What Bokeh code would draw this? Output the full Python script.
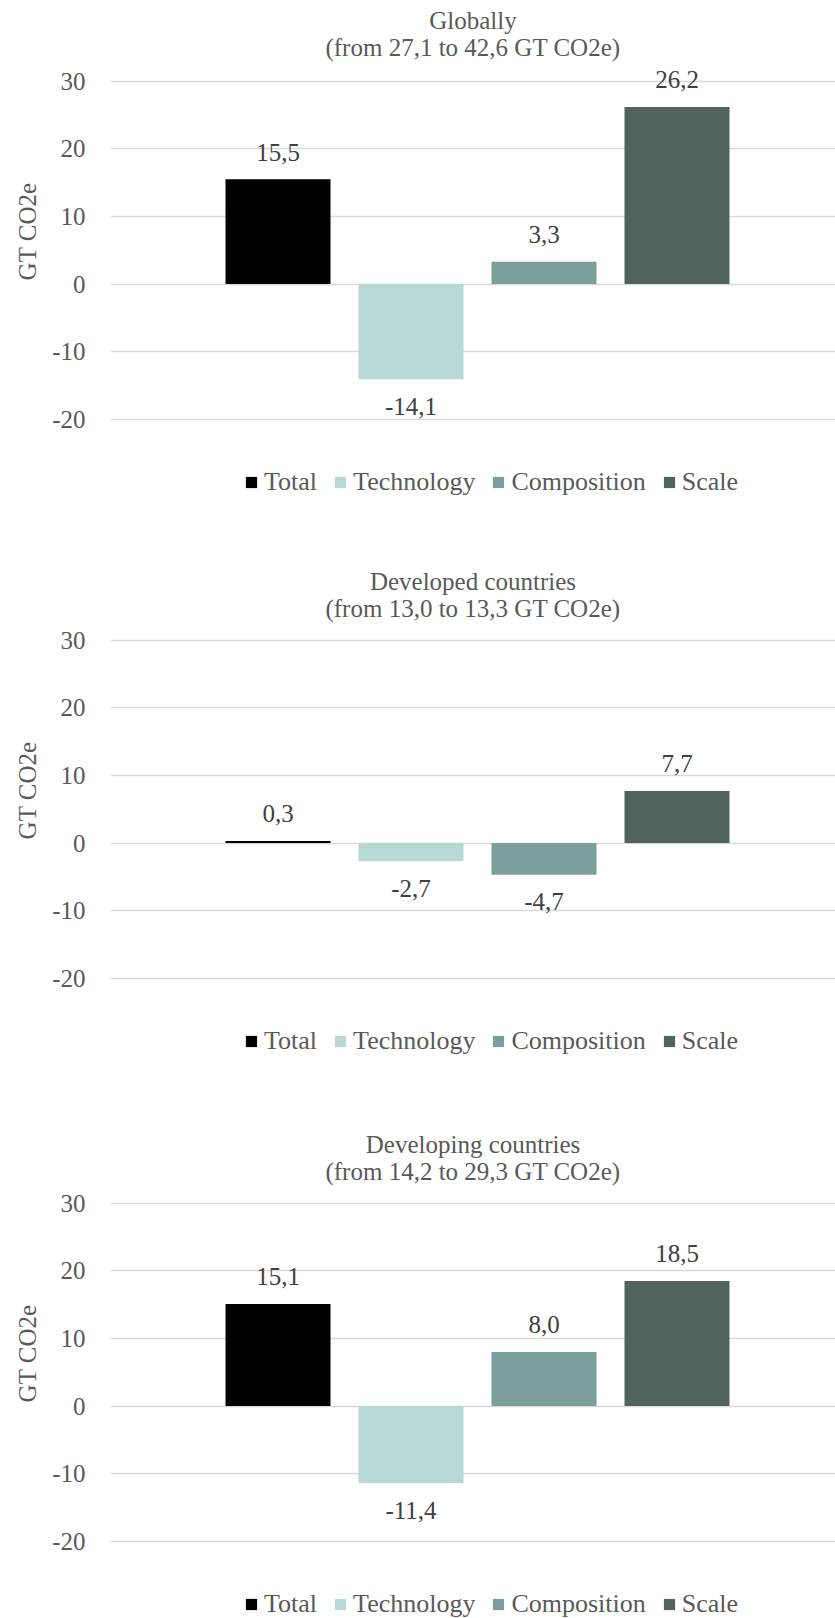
from bokeh.plotting import figure
from bokeh.layouts import column
from bokeh.models import (ColumnDataSource, Range1d, FixedTicker, Label, Legend, LegendItem, Title)
from bokeh.core.properties import value
from bokeh.embed import file_html
from bokeh.resources import INLINE

# ---------------- data ----------------
categories = ["Total", "Technology", "Composition", "Scale"]
colors = ["#000000", "#b6d9d6", "#7a9e9c", "#50645c"]

titles = ["Globally", "Developed countries", "Developing countries"]
subtitles = ["(from 27,1 to 42,6 GT CO2e)",
             "(from 13,0 to 13,3 GT CO2e)",
             "(from 14,2 to 29,3 GT CO2e)"]

globally = [15.5, -14.1, 3.3, 26.2]
developed = [0.3, -2.7, -4.7, 7.7]
developing = [15.1, -11.4, 8.0, 18.5]
series = [globally, developed, developing]

y_ticks = [-20, -10, 0, 10, 20, 30]
y_tick_labels = ["-20", "-10", "0", "10", "20", "30"]
y_axis_title = "GT CO2e"

# ---------------- layout / style ----------------
FONT = "Liberation Serif"
GREY = "#595959"
DARK = "#404040"
W = 835
LEFT = 110
heights = [559, 563, 496]
title_tops = [20, 22, 22]
ZERO_PX = 283.5          # zero line, px from the figure top
PX_PER_UNIT = 6.76       # px per GT
CAT_STEP = 133.0         # px between category centres
FIRST_CENTER = 277.5     # px of first category centre

frame_w = W - LEFT
x_start = 1 - (FIRST_CENTER - LEFT) / CAT_STEP
x_end = x_start + frame_w / CAT_STEP
bar_w = 105.0 / CAT_STEP


def fmt(v):
    return f"{v:.1f}".replace(".", ",")


figs = []
for k, vals in enumerate(series):
    H = heights[k]
    p = figure(width=W, height=H, output_backend="svg", toolbar_location=None,
               x_axis_location=None, min_border_left=LEFT, min_border_right=0,
               min_border_top=0, min_border_bottom=0,
               background_fill_color="white", border_fill_color="white")
    p.outline_line_color = None
    p.x_range = Range1d(x_start, x_end)
    p.y_range = Range1d(-(H - ZERO_PX) / PX_PER_UNIT, ZERO_PX / PX_PER_UNIT)

    xs = list(range(1, len(categories) + 1))
    src = ColumnDataSource(dict(
        x=xs, top=vals, color=colors, cat=categories,
        lab=[fmt(v) for v in vals],
        yoff=[-27 if v >= 0 else 27 for v in vals],
    ))
    r = p.vbar(x="x", top="top", bottom=0, width=bar_w, fill_color="color",
               line_color=None, source=src)
    p.text(x="x", y="top", text="lab", y_offset="yoff", source=src,
           text_align="center", text_baseline="middle",
           text_font=value(FONT), text_font_size="25px", text_color=DARK)

    # axes and grid
    p.xgrid.visible = False
    p.ygrid.grid_line_color = "#d9d9d9"
    p.ygrid.grid_line_width = 1.5
    yax = p.yaxis[0]
    yax.ticker = FixedTicker(ticks=y_ticks)
    yax.major_label_overrides = {t: s for t, s in zip(y_ticks, y_tick_labels)}
    yax.axis_line_color = None
    yax.major_tick_line_color = None
    yax.minor_tick_line_color = None
    yax.major_tick_out = 0
    yax.major_tick_in = 0
    yax.major_label_standoff = 25
    yax.major_label_text_font = FONT
    yax.major_label_text_font_size = "25px"
    yax.major_label_text_color = GREY

    # axis title (as a side title in the left panel)
    p.add_layout(Title(text=y_axis_title, align="right", offset=182,
                       vertical_align="middle", standoff=16,
                       text_font=FONT, text_font_size="25px",
                       text_font_style="normal", text_color=GREY), "left")
    # chart titles
    cx = frame_w / 2
    ty = title_tops[k]
    p.add_layout(Label(x=cx, y=H - ty, x_units="screen", y_units="screen",
                       text=titles[k], text_align="center", text_baseline="middle",
                       text_font=FONT, text_font_size="25px", text_color=GREY))
    p.add_layout(Label(x=cx, y=H - ty - 27, x_units="screen", y_units="screen",
                       text=subtitles[k], text_align="center", text_baseline="middle",
                       text_font=FONT, text_font_size="25px", text_color=GREY))

    # legend
    items = [LegendItem(label=c, renderers=[r], index=i) for i, c in enumerate(categories)]
    leg = Legend(items=items, orientation="horizontal", location=(134, H - 497),
                 glyph_width=14, glyph_height=14, label_standoff=6, spacing=16,
                 padding=0, margin=0, border_line_color=None,
                 background_fill_alpha=0, label_text_font=FONT,
                 label_text_font_size="26px", label_text_color=GREY)
    p.add_layout(leg, "center")
    figs.append(p)

layout = column(*figs, spacing=0)
open("out.html", "w").write(file_html(layout, INLINE))
